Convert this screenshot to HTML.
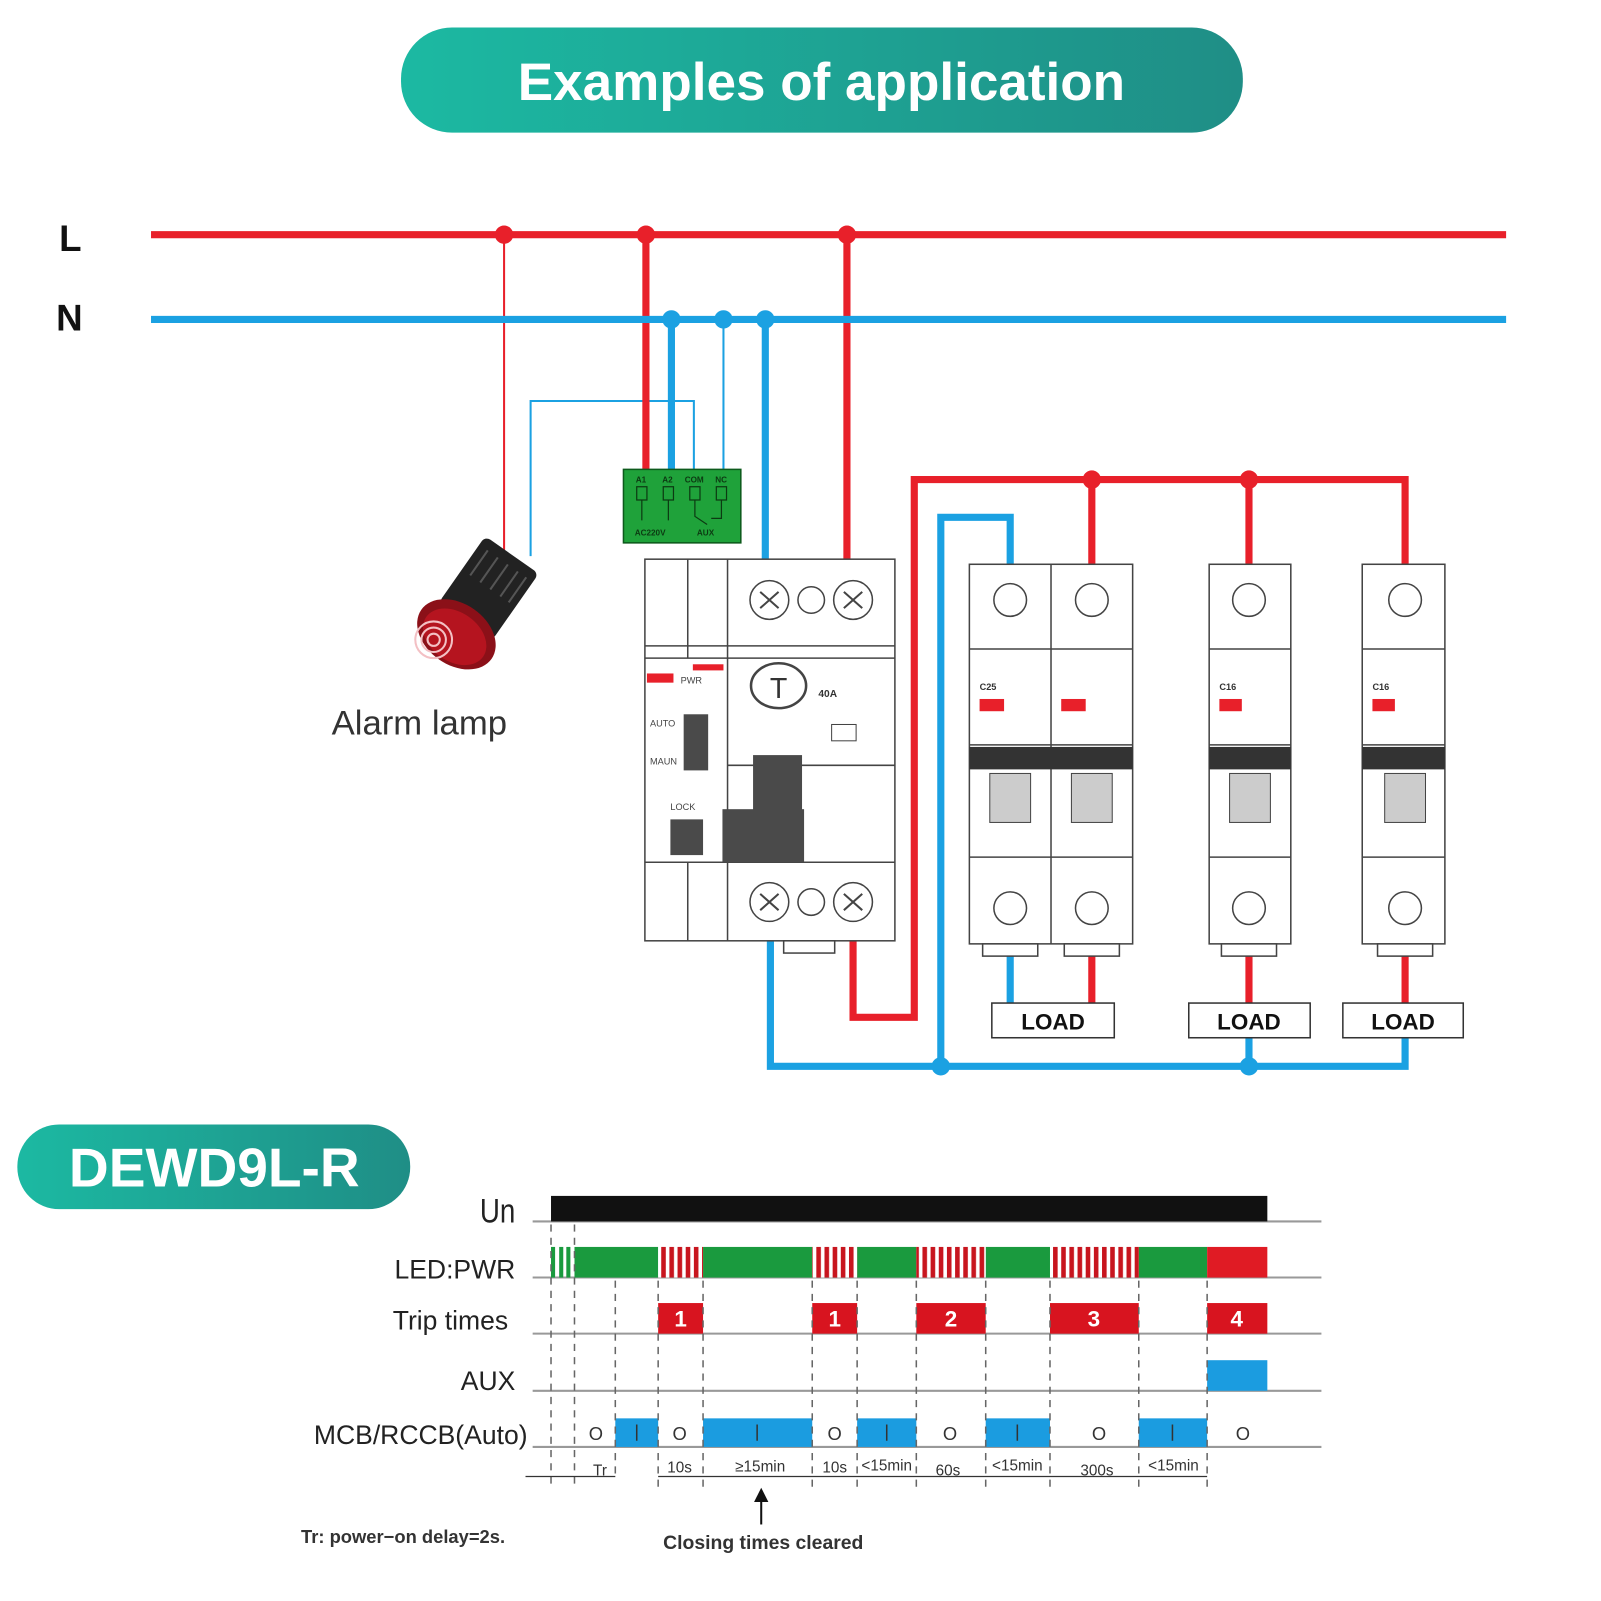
<!DOCTYPE html>
<html><head><meta charset="utf-8"><style>
html,body{margin:0;padding:0;background:#fff;}
svg{display:block;font-family:"Liberation Sans",sans-serif;}
</style></head><body>
<svg width="1601" height="1601" viewBox="0 0 1601 1601" xmlns="http://www.w3.org/2000/svg">
<defs>
<linearGradient id="tg" x1="0" x2="1" y1="0" y2="0"><stop offset="0" stop-color="#1cb9a2"/><stop offset="1" stop-color="#1f8e86"/></linearGradient>
<pattern id="rs" width="8" height="10" patternUnits="userSpaceOnUse"><rect width="8" height="10" fill="#fff"/><rect width="4.5" height="10" fill="#c8151e"/></pattern>
</defs>
<g transform="scale(1.0204)">
<rect x="393" y="27" width="825" height="103" rx="50" fill="url(#tg)"/>
<text x="805" y="98" font-size="52" font-weight="bold" fill="#fff" text-anchor="middle">Examples of application</text>

<text x="58" y="246" font-size="36" font-weight="bold" fill="#111">L</text>
<text x="55" y="324" font-size="36" font-weight="bold" fill="#111">N</text>

<g fill="none" stroke-width="2">
<path d="M494 230 V540" stroke="#e8202a"/>
<path d="M709 313 V462" stroke="#1ba1e2"/>
<path d="M680 462 V393 H520 V545" stroke="#1ba1e2"/>
</g>
<g fill="none" stroke-width="7">
<path d="M633 230 V462" stroke="#e8202a"/>
<path d="M830 230 V552" stroke="#e8202a"/>
<path d="M658 313 V462" stroke="#1ba1e2"/>
<path d="M750 313 V552" stroke="#1ba1e2"/>
<path d="M836 922 V997 H896 V470 H1377 V555" stroke="#e8202a"/>
<path d="M1070 470 V555 M1224 470 V555" stroke="#e8202a"/>
<path d="M755 900 V1045 H1377 V1017 M1224 1045 V1017 M922 1045 V507 H990 V555" stroke="#1ba1e2"/>
<path d="M990 925 V985" stroke="#1ba1e2"/>
<path d="M1070 925 V985 M1224 925 V985 M1377 925 V985" stroke="#e8202a"/>
</g>
<line x1="148" y1="230" x2="1476" y2="230" stroke="#e8202a" stroke-width="7"/>
<line x1="148" y1="313" x2="1476" y2="313" stroke="#1ba1e2" stroke-width="7"/>
<g fill="#e8202a"><circle cx="494" cy="230" r="9"/><circle cx="633" cy="230" r="9"/><circle cx="830" cy="230" r="9"/><circle cx="1070" cy="470" r="9"/><circle cx="1224" cy="470" r="9"/></g>
<g fill="#1ba1e2"><circle cx="658" cy="313" r="9"/><circle cx="709" cy="313" r="9"/><circle cx="750" cy="313" r="9"/><circle cx="922" cy="1045" r="9"/><circle cx="1224" cy="1045" r="9"/></g>

<rect x="611" y="460" width="115" height="72" fill="#1fa23a" stroke="#0d5a1c" stroke-width="1.5"/>
<g font-size="8" fill="#0c3a12" font-weight="bold"><text x="623" y="473">A1</text><text x="649" y="473">A2</text><text x="671" y="473">COM</text><text x="701" y="473">NC</text>
<text x="622" y="525">AC220V</text><text x="683" y="525">AUX</text></g>
<g fill="none" stroke="#0c3a12" stroke-width="1.2"><rect x="624" y="477" width="10" height="13"/><rect x="650" y="477" width="10" height="13"/><rect x="676" y="477" width="10" height="13"/><rect x="702" y="477" width="10" height="13"/>
<path d="M629 490 V510 M655 490 V510 M681 490 V506 L693 514 M707 490 V508 H697"/></g>

<g fill="#fff" stroke="#444" stroke-width="1.5">
<rect x="632" y="548" width="245" height="374"/>
<line x1="632" y1="645" x2="877" y2="645"/><line x1="632" y1="633" x2="877" y2="633"/>
<line x1="632" y1="845" x2="877" y2="845"/>
<line x1="713" y1="548" x2="713" y2="922"/><line x1="674" y1="548" x2="674" y2="645"/><line x1="674" y1="845" x2="674" y2="922"/>
<line x1="713" y1="750" x2="877" y2="750"/>
<circle cx="754" cy="588" r="19"/><circle cx="795" cy="588" r="13"/><circle cx="836" cy="588" r="19"/>
<circle cx="754" cy="884" r="19"/><circle cx="795" cy="884" r="13"/><circle cx="836" cy="884" r="19"/>
<ellipse cx="763" cy="672" rx="27" ry="22" stroke-width="2.5"/>
<rect x="768" y="922" width="50" height="12"/>
</g>
<g stroke="#444" stroke-width="2"><path d="M745 580 L763 596 M763 580 L745 596 M827 580 L845 596 M845 580 L827 596 M745 876 L763 892 M763 876 L745 892 M827 876 L845 892 M845 876 L827 892"/></g>
<text x="763" y="684" font-size="28" text-anchor="middle" fill="#333">T</text>
<rect x="634" y="660" width="26" height="9" fill="#e8202a"/><rect x="679" y="651" width="30" height="6" fill="#e8202a"/>
<g font-size="9" fill="#444"><text x="667" y="670">PWR</text><text x="637" y="712">AUTO</text><text x="637" y="749">MAUN</text><text x="657" y="794">LOCK</text></g>
<text x="802" y="683" font-size="10" font-weight="bold" fill="#333">40A</text>
<g fill="#4a4a4a"><rect x="670" y="700" width="24" height="55"/><rect x="738" y="740" width="48" height="55"/><rect x="708" y="793" width="80" height="52"/><rect x="657" y="803" width="32" height="35"/></g>
<rect x="815" y="710" width="24" height="16" fill="#fff" stroke="#444"/>

<g fill="#fff" stroke="#444" stroke-width="1.5">
<rect x="950" y="553" width="160" height="372"/><line x1="1030" y1="553" x2="1030" y2="925"/>
<rect x="1185" y="553" width="80" height="372"/>
<rect x="1335" y="553" width="81" height="372"/>
<path d="M950 636 H1110 M950 730 H1110 M950 840 H1110 M1185 636 H1265 M1185 730 H1265 M1185 840 H1265 M1335 636 H1416 M1335 730 H1416 M1335 840 H1416"/>
<circle cx="990" cy="588" r="16"/><circle cx="1070" cy="588" r="16"/><circle cx="1224" cy="588" r="16"/><circle cx="1377" cy="588" r="16"/>
<circle cx="990" cy="890" r="16"/><circle cx="1070" cy="890" r="16"/><circle cx="1224" cy="890" r="16"/><circle cx="1377" cy="890" r="16"/>
<rect x="963" y="925" width="54" height="12"/><rect x="1043" y="925" width="54" height="12"/><rect x="1197" y="925" width="54" height="12"/><rect x="1350" y="925" width="54" height="12"/>
</g>
<g fill="#333"><rect x="950" y="732" width="160" height="22"/><rect x="1185" y="732" width="80" height="22"/><rect x="1335" y="732" width="81" height="22"/></g>
<g fill="#ccc" stroke="#444"><rect x="970" y="758" width="40" height="48"/><rect x="1050" y="758" width="40" height="48"/><rect x="1205" y="758" width="40" height="48"/><rect x="1357" y="758" width="40" height="48"/></g>
<g fill="#e8202a"><rect x="960" y="685" width="24" height="12"/><rect x="1040" y="685" width="24" height="12"/><rect x="1195" y="685" width="22" height="12"/><rect x="1345" y="685" width="22" height="12"/></g>
<g font-size="9" font-weight="bold" fill="#333"><text x="960" y="676">C25</text><text x="1195" y="676">C16</text><text x="1345" y="676">C16</text></g>

<g fill="#fff" stroke="#333" stroke-width="1.5"><rect x="972" y="983" width="120" height="34"/><rect x="1165" y="983" width="119" height="34"/><rect x="1316" y="983" width="118" height="34"/></g>
<g font-size="22" font-weight="bold" fill="#111" text-anchor="middle"><text x="1032" y="1009">LOAD</text><text x="1224" y="1009">LOAD</text><text x="1375" y="1009">LOAD</text></g>

<g transform="rotate(35 460 600)">
<rect x="430" y="530" width="64" height="80" rx="6" fill="#222"/>
<g stroke="#555" stroke-width="2"><path d="M440 540 V570 M452 540 V570 M464 540 V570 M476 540 V570 M486 540 V570"/></g>
<ellipse cx="462" cy="625" rx="42" ry="30" fill="#8b1018"/>
<ellipse cx="462" cy="628" rx="34" ry="24" fill="#b5141f"/>
</g>
<g fill="none" stroke="#f3c0c4" stroke-width="2"><circle cx="425" cy="627" r="6"/><circle cx="425" cy="627" r="12"/><circle cx="425" cy="627" r="18"/></g>
<text x="325" y="720" font-size="34" fill="#333">Alarm lamp</text>

<rect x="17" y="1102" width="385" height="83" rx="41" fill="url(#tg)"/>
<text x="210" y="1163" font-size="54" font-weight="bold" fill="#fff" text-anchor="middle">DEWD9L-R</text>

<g font-size="26" fill="#222" text-anchor="end">
<text x="505" y="1198" font-size="34" transform="translate(505 0) scale(0.8 1) translate(-505 0)">Un</text>
<text x="505" y="1253">LED:PWR</text>
<text x="498" y="1303">Trip  times</text>
<text x="505" y="1362">AUX</text>
<text x="517" y="1415">MCB/RCCB(Auto)</text>
</g>
<g stroke="#999" stroke-width="2"><path d="M522 1197 H1295 M522 1252 H1295 M522 1307 H1295 M522 1363 H1295 M522 1418 H1295"/></g>
<rect x="540" y="1172" width="702" height="25" fill="#111"/>
<g fill="#1a9a3e"><rect x="540" y="1222" width="4" height="30"/><rect x="548" y="1222" width="4" height="30"/><rect x="555" y="1222" width="4" height="30"/>
<rect x="563" y="1222" width="82" height="30"/><rect x="689" y="1222" width="107" height="30"/><rect x="840" y="1222" width="58" height="30"/><rect x="966" y="1222" width="63" height="30"/><rect x="1116" y="1222" width="67" height="30"/></g>
<g fill="url(#rs)"><rect x="645" y="1222" width="44" height="30"/><rect x="796" y="1222" width="44" height="30"/><rect x="898" y="1222" width="68" height="30"/><rect x="1029" y="1222" width="87" height="30"/></g>
<rect x="1183" y="1222" width="59" height="30" fill="#e01b24"/>
<g fill="#d8141f"><rect x="645" y="1277" width="44" height="30"/><rect x="796" y="1277" width="44" height="30"/><rect x="898" y="1277" width="68" height="30"/><rect x="1029" y="1277" width="87" height="30"/><rect x="1183" y="1277" width="59" height="30"/></g>
<g font-size="22" font-weight="bold" fill="#fff" text-anchor="middle"><text x="667" y="1300">1</text><text x="818" y="1300">1</text><text x="932" y="1300">2</text><text x="1072" y="1300">3</text><text x="1212" y="1300">4</text></g>
<rect x="1183" y="1333" width="59" height="30" fill="#1b9ce0"/>
<g fill="#1b9ce0"><rect x="603" y="1390" width="42" height="28"/><rect x="689" y="1390" width="107" height="28"/><rect x="840" y="1390" width="58" height="28"/><rect x="966" y="1390" width="63" height="28"/><rect x="1116" y="1390" width="67" height="28"/></g>
<g stroke="#333" stroke-width="1.5"><path d="M624 1396 V1412 M742 1396 V1412 M869 1396 V1412 M997 1396 V1412 M1149 1396 V1412"/></g>
<g font-size="18" fill="#333" text-anchor="middle"><text x="584" y="1411">O</text><text x="666" y="1411">O</text><text x="818" y="1411">O</text><text x="931" y="1411">O</text><text x="1077" y="1411">O</text><text x="1218" y="1411">O</text></g>
<g stroke="#666" stroke-width="1.5" stroke-dasharray="7 6"><path d="M540 1200 V1460 M563 1200 V1460 M603 1255 V1450 M645 1255 V1460 M689 1255 V1460 M796 1255 V1460 M840 1255 V1460 M898 1255 V1460 M966 1255 V1460 M1029 1255 V1460 M1116 1255 V1460 M1183 1255 V1460"/></g>
<g stroke="#333" stroke-width="1.2"><path d="M515 1447 H603 M645 1447 H1183"/></g>
<g font-size="15" fill="#333" text-anchor="middle"><text x="588" y="1446">Tr</text><text x="666" y="1443">10s</text><text x="745" y="1442">≥15min</text><text x="818" y="1443">10s</text><text x="869" y="1441">&lt;15min</text><text x="929" y="1446">60s</text><text x="997" y="1441">&lt;15min</text><text x="1075" y="1446">300s</text><text x="1150" y="1441">&lt;15min</text></g>
<path d="M746 1494 V1470" stroke="#111" stroke-width="2"/><path d="M739 1472 L746 1458 L753 1472 Z" fill="#111"/>
<text x="295" y="1512" font-size="18" font-weight="bold" fill="#333">Tr: power−on delay=2s.</text>
<text x="748" y="1518" font-size="19" font-weight="bold" fill="#333" text-anchor="middle">Closing times cleared</text>
</g>
</svg>
</body></html>
